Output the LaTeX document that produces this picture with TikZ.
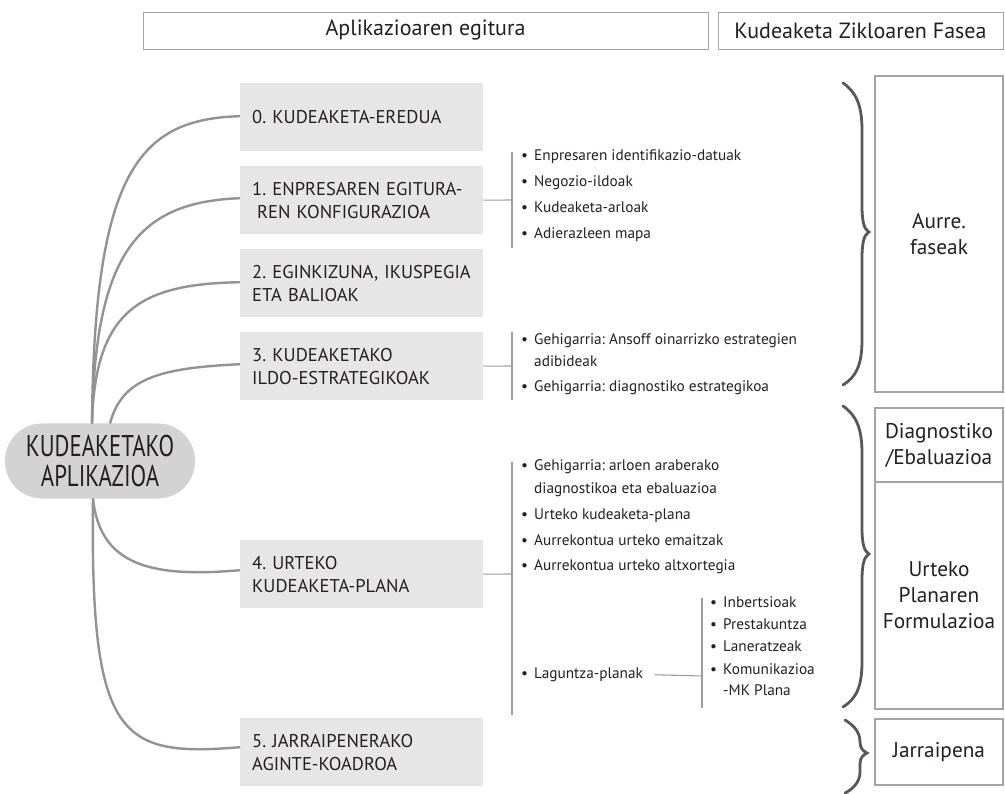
\documentclass[tikz,border=0pt]{standalone}
\usepackage{fontspec}
\setmainfont{PT Sans}
\definecolor{boxgray}{HTML}{E6E6E7}
\definecolor{bubgray}{HTML}{D3D3D4}
\definecolor{curvegray}{HTML}{939396}
\definecolor{bracegray}{HTML}{58585B}
\definecolor{linegray}{HTML}{9C9C9E}
\definecolor{framegray}{HTML}{A4A4A6}
\definecolor{txt}{HTML}{231F20}
\newcommand\bul[1]{\makebox[13pt][l]{•}#1}
\newcommand\cnt[1]{\hspace*{13pt}#1}
\frenchspacing
\begin{document}
\frenchspacing
\begin{tikzpicture}[x=1pt,y=-1pt,
  every node/.style={text=txt},
  hdr/.style={draw=framegray,line width=0.9pt,minimum height=37pt,inner sep=0pt,font=\fontsize{22}{24}\selectfont},
  graybox/.style={fill=boxgray,draw=none,minimum width=243pt,minimum height=68pt,inner xsep=12pt,inner ysep=0pt,text width=219pt,align=left,font=\fontsize{18.5}{23}\selectfont},
  bubble/.style={fill=bubgray,draw=none,rounded corners=37pt,minimum width=190pt,minimum height=75pt,inner sep=0pt,align=center,font=\fontsize{30}{30}\selectfont},
  phase/.style={draw=framegray,line width=1.2pt,minimum width=128pt,inner sep=0pt,align=center,font=\fontsize{21.3}{26}\selectfont},
  itm/.style={anchor=mid west,inner sep=0pt,font=\fontsize{15.3}{18}\selectfont},
  curve/.style={draw=curvegray,line width=2.4pt},
  bline/.style={draw=linegray,line width=1.1pt},
  brc/.style={draw=bracegray,line width=2.8pt,line cap=round}]
\useasboundingbox (0,0) rectangle (1005,794);

% headers
\node[hdr,minimum width=565pt] (h1) at (425.5,30.5) {Aplikazioaren egitura};
\node[hdr,minimum width=285pt] (h2) at (860.5,30.5) {Kudeaketa Zikloaren Fasea};

% central bubble
\node[bubble] (c) at (100,461) {\scalebox{0.76}[1]{KUDEAKETAKO}\\\scalebox{0.76}[1]{APLIKAZIOA}};

% gray boxes
\node[graybox,anchor=north west] (b0) at (240,83) {0. KUDEAKETA-EREDUA};
\node[graybox,anchor=north west] (b1) at (240,166) {1. ENPRESAREN EGITURA-\\\hspace*{5pt}REN KONFIGURAZIOA};
\node[graybox,anchor=north west] (b2) at (240,249) {2. EGINKIZUNA, IKUSPEGIA\\ETA BALIOAK};
\node[graybox,anchor=north west] (b3) at (240,332) {3. KUDEAKETAKO\\ILDO-ESTRATEGIKOAK};
\node[graybox,anchor=north west] (b4) at (240,540) {4. URTEKO\\KUDEAKETA-PLANA};
\node[graybox,anchor=north west] (b5) at (240,718) {5. JARRAIPENERAKO\\AGINTE-KOADROA};

% curves
\coordinate (ct) at (92,423.5);
\coordinate (ct3) at (110,423.5);
\coordinate (cb) at (93,498.5);
\draw[curve] (ct) .. controls (94,170) and (140,119) .. ([yshift=1pt]b0.west);
\draw[curve] (ct) .. controls (95,250) and (140,202) .. ([yshift=2pt]b1.west);
\draw[curve] (ct) .. controls (95,310) and (140,284) .. ([yshift=1pt]b2.west);
\draw[curve] (ct3) .. controls (122,378) and (160,368) .. ([yshift=2pt]b3.west);
\draw[curve] (cb) .. controls (100,565) and (150,578) .. ([yshift=4pt]b4.west);
\draw[curve] (cb) .. controls (90,740) and (120,757) .. ([yshift=5pt]b5.west);

% list 1
\coordinate (k1) at (512,200);
\draw[bline] (b1.east) -- (k1);
\draw[bline] (512,152) -- (512,248);
\node[itm] (i11) at (521,158) {\bul{Enpresaren identifikazio-datuak}};
\node[itm] (i12) at (521,184) {\bul{Negozio-ildoak}};
\node[itm] (i13) at (521,210) {\bul{Kudeaketa-arloak}};
\node[itm] (i14) at (521,236) {\bul{Adierazleen mapa}};

% list 3
\coordinate (k3) at (512,366);
\draw[bline] (b3.east) -- (k3);
\draw[bline] (512,332) -- (512,400);
\node[itm] (i31) at (521,342) {\bul{Gehigarria: Ansoff oinarrizko estrategien}};
\node[itm] (i31b) at (521,364) {\cnt{adibideak}};
\node[itm] (i32) at (521,389) {\bul{Gehigarria: diagnostiko estrategikoa}};

% list 4
\coordinate (k4) at (512,574);
\draw[bline] (b4.east) -- (k4);
\draw[bline] (512,462) -- (512,715);
\node[itm] (i41) at (521,468) {\bul{Gehigarria: arloen araberako}};
\node[itm] (i41b) at (521,491) {\cnt{diagnostikoa eta ebaluazioa}};
\node[itm] (i42) at (521,517) {\bul{Urteko kudeaketa-plana}};
\node[itm] (i43) at (521,543) {\bul{Aurrekontua urteko emaitzak}};
\node[itm] (i44) at (521,568) {\bul{Aurrekontua urteko altxortegia}};
\node[itm] (i45) at (521,676) {\bul{Laguntza-planak}};

% sub list
\coordinate (k5) at (702,676);
\draw[bline] ([xshift=12pt]i45.east) -- (k5);
\draw[bline] (702,598) -- (702,708);
\node[itm] (s1) at (710,605) {\bul{Inbertsioak}};
\node[itm] (s2) at (710,627) {\bul{Prestakuntza}};
\node[itm] (s3) at (710,649) {\bul{Laneratzeak}};
\node[itm] (s4) at (710,672) {\bul{Komunikazioa}};
\node[itm] (s4b) at (710,693) {\cnt{-MK Plana}};

% braces
\draw[brc] (843,83) .. controls (856,92) and (862,105) .. (862,130) -- (862,205)
  .. controls (862,222) and (864,229) .. (869,232) .. controls (864,235) and (862,242) .. (862,259)
  -- (862,340) .. controls (862,365) and (856,377) .. (843,385);
\draw[brc] (843,406) .. controls (856,415) and (862,428) .. (862,453) -- (862,527)
  .. controls (862,544) and (864,551) .. (869,554) .. controls (864,557) and (862,564) .. (862,581)
  -- (862,662) .. controls (862,687) and (856,699) .. (843,707);
\draw[brc] (845,720) .. controls (855,726) and (860,733) .. (860,742)
  .. controls (860,748) and (863,751) .. (867,753) .. controls (863,755) and (860,758) .. (860,764)
  -- (860,772) .. controls (860,782) and (853,789) .. (845,793);

% phase boxes
\node[phase,minimum height=316pt] (p1) at (939,234) {Aurre.\\faseak};
\node[phase,minimum height=74pt] (p2) at (939,445) {Diagnostiko\\/Ebaluazioa};
\node[phase,minimum height=227pt] (p3) at (939,595.5) {Urteko\\Planaren\\Formulazioa};
\node[phase,minimum height=66pt] (p4) at (939,752) {Jarraipena};
\end{tikzpicture}
\end{document}
